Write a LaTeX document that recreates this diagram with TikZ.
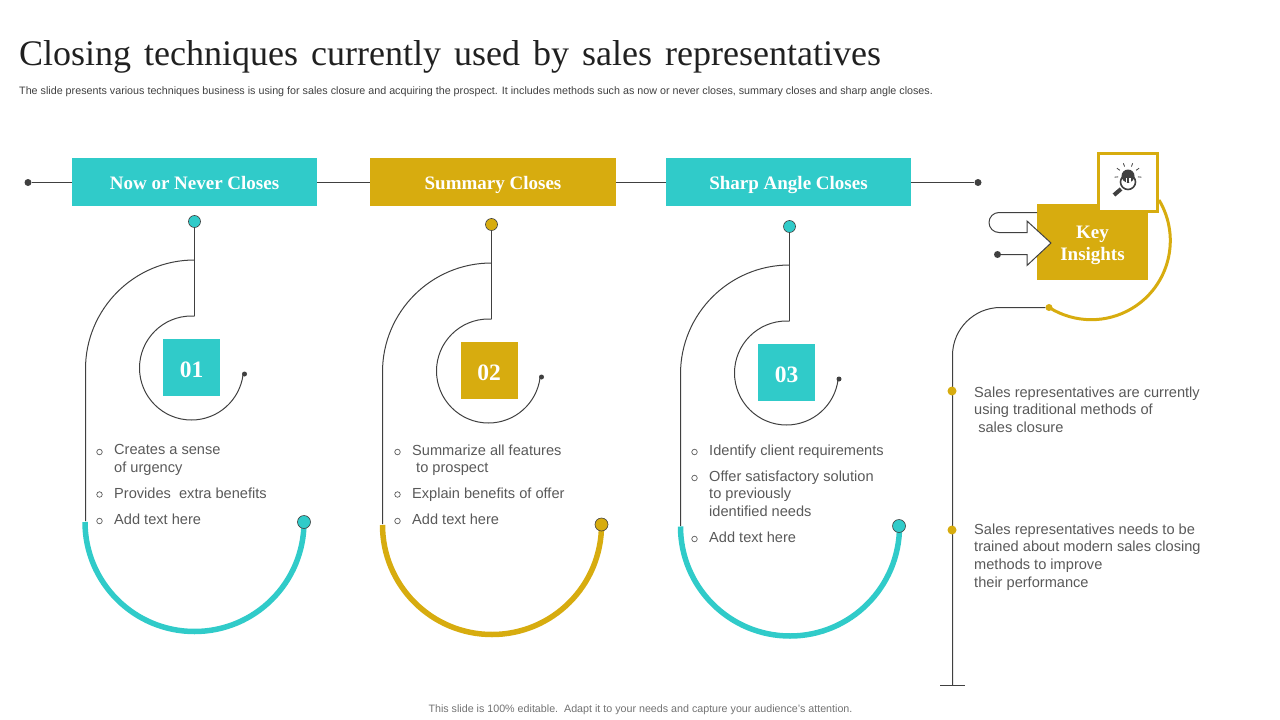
\documentclass[tikz,border=0pt]{standalone}
\usepackage{fontspec}
\setmainfont{Liberation Sans}
\newfontfamily\serifb{Liberation Serif}
\definecolor{teal1}{HTML}{30CBC9}
\definecolor{gold1}{HTML}{D7AC0F}
\definecolor{ink}{HTML}{404040}
\definecolor{txt}{HTML}{595959}
\tikzset{
 hdr/.style={anchor=center,inner sep=0pt,minimum height=48pt,text=white,text height=14pt,text depth=0pt,font=\serifb\bfseries\fontsize{19}{22}\selectfont},
 numbox/.style={inner sep=0pt,minimum width=57pt,minimum height=57pt,text=white,text height=19pt,text depth=0pt,font=\serifb\bfseries\fontsize{23.5}{28}\selectfont},
 thin line/.style={draw=ink,line width=1pt},
 dotA/.style={circle,inner sep=0pt,minimum size=12pt,draw=ink,line width=0.6pt},
 dotS/.style={circle,inner sep=0pt,minimum size=7pt,fill=ink},
 dotXS/.style={circle,inner sep=0pt,minimum size=5pt,fill=ink},
 bul/.style={circle,inner sep=0pt,minimum size=5.5pt,draw=txt,line width=0.7pt},
 body/.style={anchor=north west,inner sep=0pt,align=left,text=txt,font=\fontsize{14.6}{17.6}\selectfont},
}
\begin{document}
\begin{tikzpicture}[x=1pt,y=-1pt]
\useasboundingbox (0,0) rectangle (1280,720);
% title
\node[anchor=west,inner sep=0pt,font=\serifb\fontsize{36}{40}\selectfont,text=ink!50!black] (title) at (19,56.5) {Closing\hspace{4pt} techniques\hspace{4pt} currently\hspace{4pt} used\hspace{4pt} by\hspace{4pt} sales\hspace{4pt} representatives};
\node[anchor=west,inner sep=0pt,font=\fontsize{10.74}{12}\selectfont,text=ink] (sub) at (19,92) {The slide presents various techniques business is using for sales closure and acquiring the prospect. It includes methods such as now or never closes, summary closes and sharp angle closes.};
\node[anchor=center,inner sep=0pt,font=\fontsize{10.7}{12}\selectfont,text=txt!85!white] (foot) at (640.5,709.5) {This slide is 100\% editable.\ \ Adapt it to your needs and capture your audience's attention.};
% top line
\node[dotS] (L) at (28,182.5) {};
\node[dotS] (R) at (978,182.5) {};
\draw[thin line] (L) -- (R);
\node[hdr,fill=teal1,minimum width=245pt] (h1) at (194.5,182) {Now or Never Closes};
\node[hdr,fill=gold1,minimum width=246pt] (h2) at (493,182) {Summary Closes};
\node[hdr,fill=teal1,minimum width=245pt] (h3) at (788.5,182) {Sharp Angle Closes};
% column 1
\node[numbox,fill=teal1] (n1) at (191.5,367.5) {01};
\node[dotA,fill=teal1] (t1) at (194.5,221.5) {};
\coordinate (a1) at (194.5,260);
\coordinate (b1) at (194.5,316);
\draw[thin line] (t1) -- (b1);
\draw[thin line] (a1) arc[start angle=90,end angle=180,radius=109pt] -- ++(0,152);
\node[dotXS] (e1) at (244.5,374) {};
\draw[thin line] (b1) -- ++(-3,0) arc[start angle=90,end angle=353,radius=52pt];
\draw[teal1,line width=5.5pt] (85,522) arc[start angle=180,end angle=360,radius=109.5pt];
\node[dotA,fill=teal1,minimum size=13pt] (d1) at (304,522) {};
% column 2
\node[numbox,fill=gold1] (n2) at (489,370.5) {02};
\node[dotA,fill=gold1] (t2) at (491.5,224.5) {};
\coordinate (a2) at (491.5,263);
\coordinate (b2) at (491.5,319);
\draw[thin line] (t2) -- (b2);
\draw[thin line] (a2) arc[start angle=90,end angle=180,radius=109pt] -- ++(0,152);
\node[dotXS] (e2) at (541.5,377) {};
\draw[thin line] (b2) -- ++(-3,0) arc[start angle=90,end angle=353,radius=52pt];
\draw[gold1,line width=5.5pt] (382.5,525) arc[start angle=180,end angle=360,radius=109.5pt];
\node[dotA,fill=gold1,minimum size=13pt] (d2) at (601.5,524.5) {};
% column 3
\node[numbox,fill=teal1] (n3) at (786.5,372.5) {03};
\node[dotA,fill=teal1] (t3) at (789.5,226.5) {};
\coordinate (a3) at (789.5,265);
\coordinate (b3) at (789.5,321);
\draw[thin line] (t3) -- (b3);
\draw[thin line] (a3) arc[start angle=90,end angle=180,radius=109pt] -- ++(0,152);
\node[dotXS] (e3) at (839,379) {};
\draw[thin line] (b3) -- ++(-3,0) arc[start angle=90,end angle=353,radius=52pt];
\draw[teal1,line width=5.5pt] (680.5,526.5) arc[start angle=180,end angle=360,radius=109.5pt];
\node[dotA,fill=teal1,minimum size=13pt] (d3) at (899,526) {};
% bullets col 1
\node[bul] (b11) at (99.5,452) {}; \node[body] (x11) at (114,444.5) {Creates a sense\\of urgency};
\node[bul] (b12) at (99.5,494.5) {}; \node[body] (x12) at (114,487.5) {Provides\ \ extra benefits};
\node[bul] (b13) at (99.5,521) {}; \node[body] (x13) at (114,513.5) {Add text here};
% col 2
\node[bul] (b21) at (397.5,452) {}; \node[body] (x21) at (412,444.5) {Summarize all features\\\hspace{4pt}to prospect};
\node[bul] (b22) at (397.5,494.5) {}; \node[body] (x22) at (412,487.5) {Explain benefits of offer};
\node[bul] (b23) at (397.5,521) {}; \node[body] (x23) at (412,513.5) {Add text here};
% col 3
\node[bul] (b31) at (694.5,452) {}; \node[body] (x31) at (709,444.5) {Identify client requirements};
\node[bul] (b32) at (694.5,478) {}; \node[body] (x32) at (709,470.5) {Offer satisfactory solution\\to previously\\identified needs};
\node[bul] (b33) at (694.5,539) {}; \node[body] (x33) at (709,531.5) {Add text here};
% key insights
\node[inner sep=0pt,fill=gold1,minimum width=111pt,minimum height=76pt,text=white,align=center,font=\serifb\bfseries\fontsize{19}{22}\selectfont] (key) at (1092.5,242) {\rule{0pt}{19pt}Key\\Insights};
\node[dotS] (ar) at (997.5,254.5) {};
\draw[thin line,fill=white,line join=miter] (1037,212.5) -- (999,212.5) arc[start angle=90,end angle=270,radius=10pt] -- (1027,232.5) -- (1027,221) -- (1051,243) -- (1027,265.5) -- (1027,254.5) -- (ar);
\node[inner sep=0pt,fill=white,draw=gold1,line width=3pt,minimum width=59pt,minimum height=58pt] (ic) at (1128,182.5) {};
\draw[gold1,line width=3pt] (1159,200) arc[start angle=31,end angle=-122,radius=79pt] coordinate (ge);
\node[circle,inner sep=0pt,minimum size=7pt,fill=gold1] (gd) at (1049,307.5) {};
\coordinate (foot1) at (952.5,685);
\draw[thin line] (gd) -- (1000.5,307.5) arc[start angle=90,end angle=180,radius=48pt] -- (foot1);
\draw[thin line] (940,685.5) -- (965,685.5);
\node[circle,inner sep=0pt,minimum size=9pt,fill=gold1] (k1) at (952,391) {};
\node[circle,inner sep=0pt,minimum size=9pt,fill=gold1] (k2) at (952,530) {};
\node[body] (kt1) at (974,386.5) {Sales representatives are currently\\using traditional methods of\\\ sales closure};
\node[body] (kt2) at (974,523.5) {Sales representatives needs to be\\trained about modern sales closing\\methods to improve\\their performance};
% icon
\begin{scope}[shift={(1128,182)}]
\fill[ink] (0,-6) circle[radius=6.5pt];
\fill[white] (-2.5,-4) rectangle (2.5,0);
\fill[ink] (-1.2,-4) rectangle (1.2,0.5);
\draw[ink,line width=1.6pt] (0,0) circle[radius=7.5pt];
\draw[ink,line width=4pt] (-7,7) -- (-14,13);
\foreach \a in {-5,35,70,110,145,185}{\draw[ink,line width=0.8pt] ({10*cos(\a)},{-6-10*sin(\a)}) -- ({13.5*cos(\a)},{-6-13.5*sin(\a)});}
\end{scope}
\end{tikzpicture}
\end{document}
